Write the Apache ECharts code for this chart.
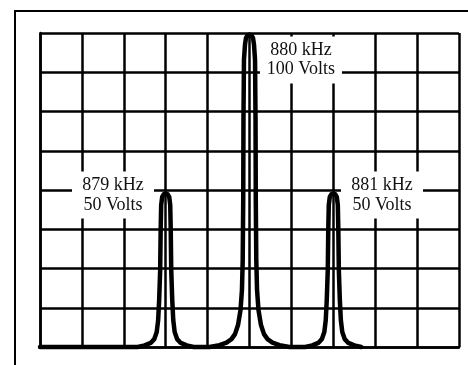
<!DOCTYPE html>
<html>
<head>
<meta charset="utf-8">
<script src="https://cdn.jsdelivr.net/npm/echarts@6/dist/echarts.min.js"></script>
<style>
  html, body { margin: 0; padding: 0; background: #fff; }
  #chart { width: 468px; height: 365px; }
</style>
</head>
<body>
<div id="chart"></div>
<script>
// Axis ranges (kHz horizontally, Volts vertically)
const freqMin = 877.5, freqMax = 882.5, freqStep = 0.5;
const voltMin = 0, voltMax = 100, voltStep = 12.5;

// Spectrum trace: frequency (kHz) and amplitude (Volts)
const leftPeakKHz   = [877.5, 878.666, 878.749, 878.821, 878.863, 878.893, 878.910, 878.922, 878.934, 878.940, 878.946, 878.958, 878.976, 879.000, 879.024, 879.042, 879.054, 879.060, 879.066, 879.078, 879.090, 879.107, 879.137, 879.179, 879.251, 879.334];
const leftPeakVolts = [0,     0,       0.5,     1.3,     2.5,     4.8,     8.6,     15.0,    24.5,    37.3,    45.2,    47.8,    48.6,    48.9,    48.6,    47.8,    45.2,    37.3,    24.5,    15.0,    8.6,     4.8,     2.5,     1.3,     0.5,     0];

const centerPeakKHz   = [879.523, 879.642, 879.726, 879.785, 879.827, 879.863, 879.893, 879.910, 879.919, 879.925, 879.928, 879.934, 879.946, 879.958, 879.976, 880.000, 880.024, 880.042, 880.054, 880.066, 880.072, 880.075, 880.081, 880.090, 880.107, 880.137, 880.173, 880.215, 880.274, 880.358, 880.477];
const centerPeakVolts = [0,       0.6,     1.4,     2.5,     4.1,     7.0,     11.8,    18.2,    27.7,    46.8,    72.3,    91.4,    96.2,    98.4,    99.2,    99.5,    99.2,    98.4,    96.2,    91.4,    72.3,    46.8,    27.7,    18.2,    11.8,    7.0,     4.1,     2.5,     1.4,     0.6,     0];

const rightPeakKHz   = [880.666, 880.749, 880.821, 880.863, 880.893, 880.910, 880.922, 880.934, 880.940, 880.946, 880.958, 880.976, 881.000, 881.024, 881.042, 881.054, 881.060, 881.066, 881.078, 881.090, 881.107, 881.137, 881.179, 881.251, 881.334, 882.5];
const rightPeakVolts = [0,       0.5,     1.3,     2.5,     4.8,     8.6,     15.0,    24.5,    37.3,    45.2,    47.8,    48.6,    48.9,    48.6,    47.8,    45.2,    37.3,    24.5,    15.0,    8.6,     4.8,     2.5,     1.3,     0.5,     0];

// Peak annotations
const labelTexts = ['879 kHz\n50 Volts', '880 kHz\n100 Volts', '881 kHz\n50 Volts'];
const labelKHz   = [878.371, 880.614, 881.581];
const labelVolts = [48.4, 91.4, 48.4];

const traceKHz = [].concat(leftPeakKHz, centerPeakKHz, rightPeakKHz);
const traceVolts = [].concat(leftPeakVolts, centerPeakVolts, rightPeakVolts);
const traceData = traceKHz.map((f, i) => [f, traceVolts[i]]);

const chart = echarts.init(document.getElementById('chart'), null, { renderer: 'canvas' });

const gridLine = { show: true, lineStyle: { color: '#000', width: 2.5 } };

chart.setOption({
  backgroundColor: '#fff',
  animation: false,
  grid: { left: 40, top: 33, right: 9, bottom: 18, containLabel: false },
  xAxis: {
    type: 'value', min: freqMin, max: freqMax, interval: freqStep,
    axisLabel: { show: false }, axisTick: { show: false },
    axisLine: { show: true, lineStyle: { color: '#000', width: 2.5 } },
    splitLine: gridLine
  },
  yAxis: {
    type: 'value', min: voltMin, max: voltMax, interval: voltStep,
    axisLabel: { show: false }, axisTick: { show: false },
    axisLine: { show: true, lineStyle: { color: '#000', width: 2.5 } },
    splitLine: gridLine
  },
  graphic: [{
    type: 'rect',
    shape: { x: 15, y: 11, width: 480, height: 380 },
    style: { fill: 'none', stroke: '#000', lineWidth: 2 },
    silent: true
  }],
  series: [{
    type: 'line',
    data: traceData,
    showSymbol: false,
    symbol: 'none',
    clip: false,
    lineStyle: { color: '#000', width: 4.5, join: 'round', cap: 'round' },
    markPoint: {
      symbol: 'rect',
      symbolSize: [82, 47],
      itemStyle: { color: '#fff' },
      label: {
        show: true,
        position: 'inside',
        formatter: p => p.name,
        color: '#111',
        fontFamily: 'Liberation Serif',
        fontSize: 18,
        lineHeight: 19.5,
        align: 'center'
      },
      data: labelTexts.map((t, i) => ({ name: t, coord: [labelKHz[i], labelVolts[i]] }))
    }
  }]
});
</script>
</body>
</html>
